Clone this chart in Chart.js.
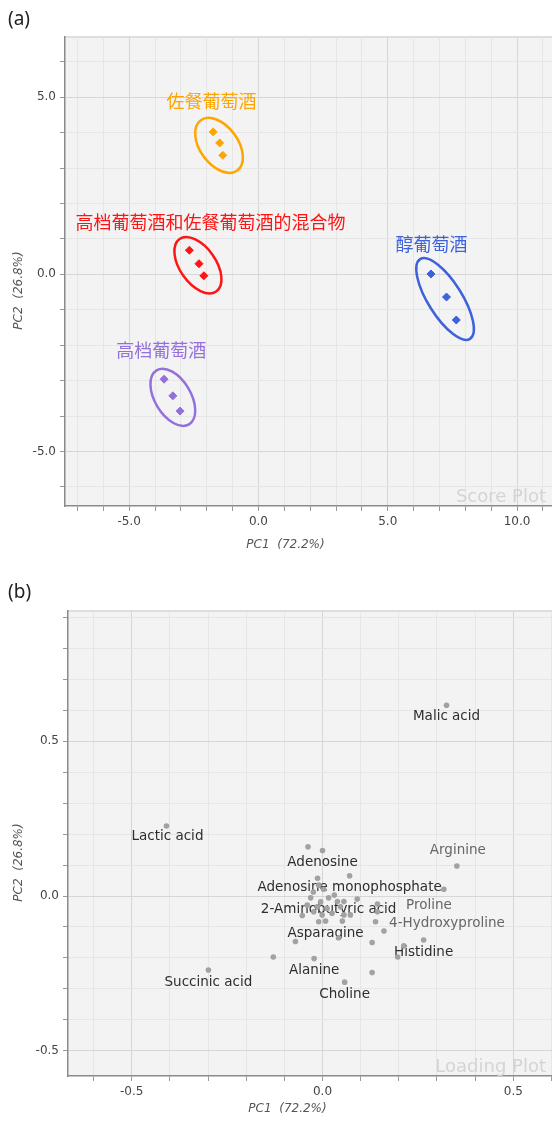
<!DOCTYPE html>
<html>
<head>
<meta charset="utf-8">
<script src="https://cdn.jsdelivr.net/npm/chart.js@4.4.0/dist/chart.umd.min.js"></script>
<style>
  body { margin: 0; background: #fff; width: 552px; height: 1124px; overflow: hidden; position: relative; }
  canvas { position: absolute; left: 0; }
  .tag { position: absolute; left: 8px; font: 19px "Noto Sans", sans-serif; color: #222; }
</style>
</head>
<body>
<canvas id="score" style="top:0" width="557" height="560"></canvas>
<canvas id="loading" style="top:566px" width="557" height="558"></canvas>
<div class="tag" style="top:5px">(a)</div>
<div class="tag" style="top:578px">(b)</div>
<script>
// score plot (a): four wine groups
const groupNames = ["佐餐葡萄酒", "高档葡萄酒和佐餐葡萄酒的混合物", "醇葡萄酒", "高档葡萄酒"];
const tableX = [-1.75, -1.50, -1.38];
const tableY = [4.02, 3.71, 3.36];
const mixX = [-2.67, -2.30, -2.11];
const mixY = [0.68, 0.30, -0.04];
const pureX = [6.67, 7.27, 7.65];
const pureY = [0.01, -0.64, -1.29];
const premX = [-3.65, -3.31, -3.03];
const premY = [-2.96, -3.43, -3.86];

// loading plot (b)
const loadNames = [
  "Malic acid", "Arginine", "Lactic acid", "Succinic acid", "", "Alanine", "Choline", "", "", "",
  "", "", "Histidine", "", "4-Hydroxyproline", "", "", "", "", "Proline",
  "Adenosine monophosphate", "", "Adenosine", "", "", "", "2-Aminobutyric acid", "Asparagine",
  "", "", "", "", "", "", "", "", "", "", "", "", "", "", "", "", "", ""
];
const loadX = [
  0.325, 0.352, -0.409, -0.299, -0.129, -0.022, 0.058, 0.130, 0.130, -0.071,
  0.042, 0.197, 0.265, 0.213, 0.161, 0.139, 0.144, 0.144, 0.091, 0.318,
  0.071, -0.038, 0.000, -0.013, 0.003, -0.053, 0.016, 0.008,
  -0.010, -0.024, 0.031, -0.031, -0.005, 0.039, -0.040, -0.014, 0.012, 0.047,
  -0.023, -0.001, 0.025, 0.056, 0.073, 0.052, -0.010, 0.056
];
const loadY = [
  0.616, 0.097, 0.226, -0.239, -0.197, -0.202, -0.278, -0.247, -0.150, -0.147,
  -0.135, -0.197, -0.142, -0.161, -0.113, -0.083, -0.051, -0.026, -0.010, 0.022,
  0.065, 0.159, 0.147, 0.057, 0.022, -0.063, -0.006, -0.081,
  0.035, 0.013, 0.003, -0.006, -0.019, -0.018, -0.029, -0.035, -0.040, -0.035,
  -0.051, -0.061, -0.056, -0.061, -0.061, -0.081, -0.083, -0.018
];
const lightNames = ["Arginine", "Proline", "4-Hydroxyproline"];

const pcXTitle = "PC1  (72.2%)";
const pcYTitle = "PC2  (26.8%)";

// styles
const groupColors = ["#ffa500", "#ff1414", "#3d62dc", "#9370db"];
const ellipseStyle = [
  { a: 31, b: 19, rot: 54 },
  { a: 32, b: 18, rot: 55 },
  { a: 47, b: 17, rot: 58 },
  { a: 31.5, b: 18, rot: 59 },
];
const groupLabelShift = [[-7, -42], [13, -41], [-13, -53], [-11, -45]];
const loadLabelShift = {
  "Malic acid": [0, 11], "Arginine": [1, -15], "Lactic acid": [1, 11],
  "Proline": [-15, 16], "4-Hydroxyproline": [63, -8],
};

const toPts = (xs, ys) => xs.map((x, i) => ({ x: x, y: ys[i] }));
const isMajor = (v, step) => Math.abs(v / step - Math.round(v / step)) < 1e-6;
const gridColor = step => c => (c.tick && isMajor(c.tick.value, step)) ? "#d6d6d6" : "#e6e6e6";

function axis(min, max, step, major, fit) {
  return {
    type: "linear", min: min, max: max, afterFit: fit,
    grid: { color: gridColor(major), tickColor: "#999", tickLength: 5, lineWidth: 1 },
    border: { color: "#8a8a8a", width: 1.5 },
    ticks: {
      stepSize: step, includeBounds: false, autoSkip: false, maxRotation: 0, padding: 4,
      color: "#444", font: { family: "DejaVu Sans", size: 12 },
      callback: v => isMajor(v, major) ? v.toFixed(1) : "",
    },
  };
}

// background, top edge and axis titles
const frame = {
  id: "frame",
  beforeDraw(chart) {
    const { ctx, chartArea: a } = chart;
    ctx.save();
    ctx.fillStyle = "#f3f3f3";
    ctx.fillRect(a.left, a.top, a.right - a.left, a.bottom - a.top);
    ctx.fillStyle = "#dedede";
    ctx.fillRect(a.left, a.top - 1, a.right - a.left, 2);
    ctx.restore();
  },
  beforeDatasetsDraw(chart) {
    const { ctx, chartArea: a } = chart;
    ctx.save();
    ctx.fillStyle = "#d4d4d4";
    ctx.font = "18px 'DejaVu Sans'";
    ctx.textAlign = "right";
    ctx.textBaseline = "middle";
    ctx.fillText(chart.options.plugins.frame.mark, 546, a.bottom - 9);
    ctx.restore();
  },
  afterDraw(chart) {
    const { ctx, chartArea: a } = chart;
    ctx.save();
    ctx.fillStyle = "#555";
    ctx.font = "italic 12px 'DejaVu Sans'";
    ctx.textAlign = "center";
    ctx.textBaseline = "middle";
    ctx.fillText(pcXTitle, (a.left + a.right) / 2 - 23, chart.height - 15);
    ctx.translate(19, (a.top + a.bottom) / 2 + 19);
    ctx.rotate(-Math.PI / 2);
    ctx.fillText(pcYTitle, 0, 0);
    ctx.restore();
  },
};

// ellipses and group names for the score plot
const groupDecor = {
  id: "groupDecor",
  afterDatasetsDraw(chart) {
    const { ctx, scales } = chart;
    chart.data.datasets.forEach((ds, g) => {
      const px = ds.data.map(p => scales.x.getPixelForValue(p.x));
      const py = ds.data.map(p => scales.y.getPixelForValue(p.y));
      const cx = px.reduce((s, v) => s + v, 0) / px.length;
      const cy = py.reduce((s, v) => s + v, 0) / py.length;
      const e = ellipseStyle[g];
      ctx.save();
      ctx.strokeStyle = groupColors[g];
      ctx.lineWidth = 2.5;
      ctx.beginPath();
      ctx.ellipse(cx + 0.5, cy + 2, e.a, e.b, e.rot * Math.PI / 180, 0, Math.PI * 2);
      ctx.stroke();
      ctx.fillStyle = groupColors[g];
      ctx.font = "18px 'Noto Sans CJK SC'";
      ctx.textAlign = "center";
      ctx.textBaseline = "middle";
      ctx.fillText(ds.label, cx + groupLabelShift[g][0], cy + groupLabelShift[g][1]);
      ctx.restore();
    });
  },
};

// metabolite names for the loading plot
const loadDecor = {
  id: "loadDecor",
  beforeDatasetsDraw(chart) {
    const { ctx, scales } = chart;
    ctx.save();
    ctx.font = "13.5px 'DejaVu Sans'";
    ctx.textAlign = "center";
    ctx.textBaseline = "middle";
    loadNames.forEach((n, i) => {
      if (!n) return;
      const s = loadLabelShift[n] || [0, 12];
      ctx.fillStyle = lightNames.includes(n) ? "#666" : "#2e2e2e";
      ctx.fillText(n, scales.x.getPixelForValue(loadX[i]) + s[0], scales.y.getPixelForValue(loadY[i]) + s[1]);
    });
    ctx.restore();
  },
};

const seriesX = [tableX, mixX, pureX, premX];
const seriesY = [tableY, mixY, pureY, premY];

new Chart(document.getElementById("score"), {
  type: "scatter",
  data: {
    datasets: groupNames.map((name, g) => ({
      label: name,
      data: toPts(seriesX[g], seriesY[g]),
      pointStyle: "rectRot",
      pointRadius: 4,
      backgroundColor: groupColors[g],
      borderColor: groupColors[g],
      borderWidth: 1,
    })),
  },
  options: {
    responsive: false,
    animation: false,
    layout: { padding: { top: 37, right: 0, left: 0, bottom: 0 } },
    scales: {
      x: axis(-7.48, 11.35, 1, 5, s => { s.height = 54; }),
      y: axis(-6.54, 6.70, 1, 5, s => { s.width = 65; }),
    },
    plugins: { legend: { display: false }, tooltip: { enabled: false }, frame: { mark: "Score Plot" } },
  },
  plugins: [frame, groupDecor],
});

new Chart(document.getElementById("loading"), {
  type: "scatter",
  data: {
    datasets: [{
      label: "Loading",
      data: toPts(loadX, loadY),
      pointRadius: 2.8,
      backgroundColor: "#a2a2a2",
      borderWidth: 0,
    }],
  },
  options: {
    responsive: false,
    animation: false,
    layout: { padding: { top: 45, right: 0, left: 0, bottom: 0 } },
    scales: {
      x: axis(-0.667, 0.604, 0.1, 0.5, s => { s.height = 48; }),
      y: axis(-0.581, 0.920, 0.1, 0.5, s => { s.width = 68; }),
    },
    plugins: { legend: { display: false }, tooltip: { enabled: false }, frame: { mark: "Loading Plot" } },
  },
  plugins: [frame, loadDecor],
});
</script>
</body>
</html>
